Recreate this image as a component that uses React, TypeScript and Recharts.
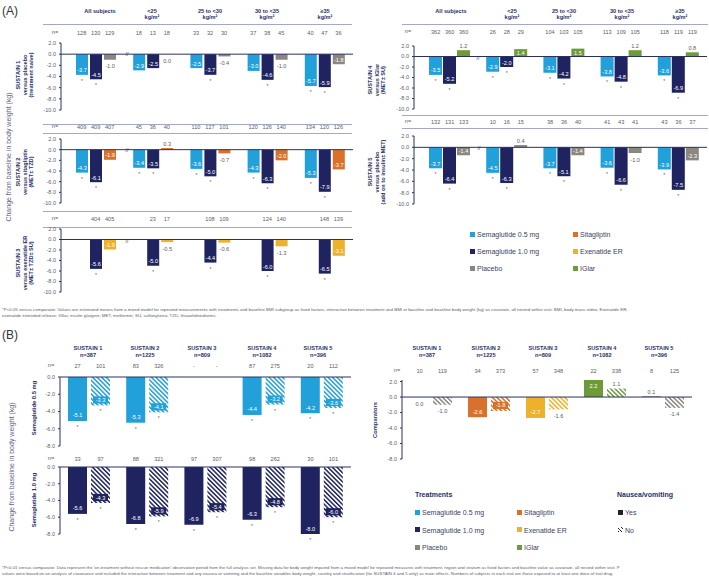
import React from 'react';
import { BarChart, Bar, XAxis, YAxis, ReferenceLine, LabelList, Cell } from 'recharts';

const FONT = '"Liberation Sans", Arial, Helvetica, sans-serif';
const NAVY = '#2a3064';
const TXT = '#5a5d6a';
const LINE = '#a3a9c4';

const C_SEMA05 = '#21a0da';
const C_SEMA10 = '#1f2460';
const C_PLACEBO = '#8b8680';
const C_SITA = '#d9712c';
const C_EXEN = '#eeb12c';
const C_IGLAR = '#6c9b37';

// ---- Panel A: BMI subgroups ----
const bmiGroups = ['All subjects', '<25', '25 to <30', '30 to <35', '≥35'];
const bmiHeaders = [['All subjects'], ['<25', 'kg/m²'], ['25 to <30', 'kg/m²'], ['30 to <35', 'kg/m²'], ['≥35', 'kg/m²']];

const s1Sema05 = [-3.7, -2.9, -2.5, -3.0, -5.7];
const s1Sema10 = [-4.5, -2.5, -3.7, -4.6, -5.9];
const s1Placebo = [-1.0, 0.0, -0.4, -1.0, -1.8];
const s1N05 = [128, 18, 33, 37, 40];
const s1N10 = [130, 13, 32, 38, 47];
const s1NPbo = [129, 18, 30, 45, 36];
const s1Star05 = [true, false, false, false, true];
const s1Star10 = [true, false, true, true, true];

const s2Sema05 = [-4.3, -3.4, -3.6, -4.3, -5.3];
const s2Sema10 = [-6.1, -3.5, -5.0, -6.3, -7.9];
const s2Sita = [-1.9, 0.3, -0.7, -2.0, -3.7];
const s2N05 = [409, 45, 110, 120, 134];
const s2N10 = [409, 36, 127, 126, 120];
const s2NSita = [407, 40, 101, 140, 126];

const s3Sema05 = [null, null, null, null, null];
const s3Sema10 = [-5.6, -5.0, -4.4, -6.0, -6.5];
const s3Exen = [-1.9, -0.5, -0.6, -1.3, -3.1];
const s3N10 = [404, 23, 108, 124, 148];
const s3NExen = [405, 17, 109, 140, 139];

const s4Sema05 = [-3.5, -2.9, -3.1, -3.8, -3.6];
const s4Sema10 = [-5.2, -2.0, -4.2, -4.8, -6.9];
const s4IGlar = [1.2, 1.4, 1.5, 1.2, 0.8];
const s4N05 = [362, 26, 104, 113, 118];
const s4N10 = [360, 28, 103, 109, 119];
const s4NIG = [360, 29, 105, 105, 119];

const s5Sema05 = [-3.7, -4.5, -3.7, -3.6, -3.9];
const s5Sema10 = [-6.4, -6.3, -5.1, -6.6, -7.5];
const s5Placebo = [-1.4, 0.4, -1.4, -1.0, -2.3];
const s5N05 = [132, 10, 38, 41, 43];
const s5N10 = [131, 16, 36, 43, 36];
const s5NPbo = [133, 15, 40, 41, 37];

const allStar = [true, true, true, true, true];
const noStar = [false, false, false, false, false];
const blankN = ['', '', '', '', ''];

// ---- Panel B: nausea / vomiting ----
const trials = ['SUSTAIN 1', 'SUSTAIN 2', 'SUSTAIN 3', 'SUSTAIN 4', 'SUSTAIN 5'];
const trialN = ['n=387', 'n=1225', 'n=809', 'n=1082', 'n=396'];

const b05Yes = [-5.1, -5.3, null, -4.4, -4.2];
const b05No = [-3.3, -4.1, null, -3.2, -3.6];
const b05NYes = [27, 83, '-', 87, 20];
const b05NNo = [101, 326, '-', 275, 112];
const b05Star = [true, true, false, true, true];

const b10Yes = [-5.6, -6.8, -6.9, -6.3, -8.0];
const b10No = [-4.3, -5.9, -5.4, -4.8, -6.0];
const b10NYes = [33, 88, 97, 98, 30];
const b10NNo = [97, 321, 307, 262, 101];

const compYes = [0.0, -2.6, -2.7, 2.2, 0.1];
const compNo = [-1.0, -1.8, -1.6, 1.1, -1.4];
const compNYes = [10, 34, 57, 22, 8];
const compNNo = [119, 373, 348, 338, 125];
const compColors = [C_PLACEBO, C_SITA, C_EXEN, C_IGLAR, C_PLACEBO];

const legendNames = ['Semaglutide 0.5 mg', 'Semaglutide 1.0 mg', 'Placebo', 'Sitagliptin', 'Exenatide ER', 'IGlar'];
const legendColors = [C_SEMA05, C_SEMA10, C_PLACEBO, C_SITA, C_EXEN, C_IGLAR];

const ticksA = [2, 0, -2, -4, -6, -8, -10];
const ticksB = [0, -2, -4, -6, -8];
const ticksC = [2, 0, -2, -4, -6, -8];

const fill5 = (c: string) => [c, c, c, c, c];

type SeriesDef = {
  key: string;
  values: (number | null)[];
  colors: string[];
  n: (number | string)[];
  stars: boolean[];
  hatched?: boolean;
};

type ChartDef = {
  cats: string[];
  series: SeriesDef[];
  x0: number;
  x1: number;
  y0: number;
  y1: number;
  domain: [number, number];
  ticks: number[];
  padLeft: number;
  barSize: number;
  barGap: number;
  nGap: number;
  threshold: number;
  insideOffset: number;
};

const hatchId = (c: string) => `hatch-${c.slice(1)}`;

// n= row drawn as the category ticks of a top x axis, one number per bar slot
function makeNTick(c: ChartDef, mt: number) {
  const m = c.series.length;
  const step = c.barSize + c.barGap;
  return (props: any) => {
    const x = Number(props.x);
    const idx = c.cats.indexOf(props.payload?.value);
    const i = idx >= 0 ? idx : props.index ?? 0;
    return (
      <g>
        {c.series.map((s, k) => {
          const nv = s.n[i];
          if (nv === '' || nv == null) return null;
          return (
            <text key={k} x={x + (k - (m - 1) / 2) * step} y={mt - c.nGap} textAnchor="middle" dominantBaseline="central" fontSize={5.6} fill={TXT} fontFamily={FONT}>
              {nv}
            </text>
          );
        })}
      </g>
    );
  };
}

function makeLabel(s: SeriesDef, c: ChartDef) {
  return (props: any) => {
    const vb = props.viewBox || props;
    const x = Number(vb.x);
    const w = Number(vb.width);
    const y = Number(vb.y);
    const h = Number(vb.height);
    const i = typeof props.value === 'number' ? props.value : props.index;
    const cx = x + w / 2;
    const out: React.ReactNode[] = [];
    const v = s.values[i];
    if (v != null && !isNaN(y) && !isNaN(h)) {
      const top = Math.min(y, y + h);
      const bot = Math.max(y, y + h);
      const inside = Math.abs(v) >= c.threshold;
      const col = s.colors[i];
      let ly: number;
      if (v <= 0) ly = inside ? bot - Math.min((bot - top) / 2, c.insideOffset) : bot + 6.5;
      else ly = inside ? top + Math.min((bot - top) / 2, c.insideOffset) : top - 4.5;
      if (inside && s.hatched) {
        out.push(<rect key="b" x={cx - 7.5} y={ly - 3.6} width={15} height={7.2} fill={col} />);
      }
      out.push(
        <text key="v" x={cx} y={ly} textAnchor="middle" dominantBaseline="central" fontSize={5.6} fill={inside ? '#fff' : TXT} fontFamily={FONT}>
          {v.toFixed(1)}
        </text>
      );
      if (s.stars[i]) {
        out.push(
          <text key="s" x={cx} y={bot + 6} textAnchor="middle" dominantBaseline="central" fontSize={5} fill={TXT} fontFamily={FONT}>
            *
          </text>
        );
      }
    }
    return <g>{out}</g>;
  };
}

function GroupChart(c: ChartDef) {
  const mt = 22;
  const mb = 10;
  const aw = 36;
  const data = c.cats.map((g, i) => {
    const row: Record<string, any> = { g, i };
    c.series.forEach((s) => {
      row[s.key] = s.values[i];
    });
    return row;
  });
  const hatchColors = Array.from(new Set(c.series.filter((s) => s.hatched).flatMap((s) => s.colors)));
  return (
    <div style={{ position: 'absolute', left: c.x0 - aw, top: c.y0 - mt }}>
      <BarChart
        width={aw + c.x1 - c.x0}
        height={mt + c.y1 - c.y0 + mb}
        data={data}
        margin={{ top: 0, right: 0, bottom: mb, left: 0 }}
        barSize={c.barSize}
        barGap={c.barGap}
      >
        <defs>
          {hatchColors.map((col) => (
            <pattern key={col} id={hatchId(col)} patternUnits="userSpaceOnUse" width={3.2} height={3.2} patternTransform="rotate(-45)">
              <rect width={3.2} height={3.2} fill="#fff" />
              <rect width={1.5} height={3.2} fill={col} />
            </pattern>
          ))}
        </defs>
        <XAxis
          dataKey="g"
          orientation="top"
          height={mt}
          axisLine={false}
          tickLine={false}
          interval={0}
          tick={makeNTick(c, mt)}
          padding={{ left: c.padLeft, right: 0 }}
        />
        <YAxis
          domain={c.domain}
          ticks={c.ticks}
          interval={0}
          width={aw}
          axisLine={{ stroke: NAVY }}
          tickLine={{ stroke: NAVY }}
          tickSize={2}
          tickMargin={3}
          tick={{ fontSize: 5.5, fill: TXT, fontFamily: FONT }}
          tickFormatter={(v: number) => v.toFixed(1)}
        />
        {c.series.map((s) => (
          <Bar key={s.key} dataKey={s.key} isAnimationActive={false} fill={s.colors[0]} minPointSize={0.01}>
            {s.colors.map((col, k) => (
              <Cell key={k} fill={s.hatched ? `url(#${hatchId(col)})` : col} />
            ))}
            <LabelList valueAccessor={(e: any) => e.payload.i} content={makeLabel(s, c)} />
          </Bar>
        ))}
        <ReferenceLine y={0} stroke={NAVY} strokeWidth={1} />
      </BarChart>
    </div>
  );
}

function T({ x, y, children, size = 5.6, bold = false, color = TXT, anchor = 'middle' }: any) {
  return (
    <div
      style={{
        position: 'absolute',
        left: x,
        top: y,
        transform: anchor === 'middle' ? 'translate(-50%, -50%)' : 'translate(0, -50%)',
        fontSize: size,
        fontWeight: bold ? 700 : 400,
        color,
        whiteSpace: 'nowrap',
        lineHeight: 1,
      }}
    >
      {children}
    </div>
  );
}

function VLabel({ x, y, lines, size = 5.6, bold = true, color = NAVY }: any) {
  return (
    <div
      style={{
        position: 'absolute',
        left: x,
        top: y,
        transform: 'translate(-50%, -50%) rotate(-90deg)',
        fontSize: size,
        fontWeight: bold ? 700 : 400,
        color,
        textAlign: 'center',
        whiteSpace: 'nowrap',
        lineHeight: 1.2,
      }}
    >
      {lines.map((l: string, k: number) => (
        <div key={k}>{l}</div>
      ))}
    </div>
  );
}

function HLine({ x0, x1, y, w = 0.8 }: any) {
  return <div style={{ position: 'absolute', left: x0, top: y, width: x1 - x0, height: w, background: LINE }} />;
}

function Swatch({ x, y, color, hatch }: any) {
  return (
    <div
      style={{
        position: 'absolute',
        left: x,
        top: y - 2.5,
        width: 5,
        height: 5,
        background: hatch ? `repeating-linear-gradient(45deg, #222 0 1px, #fff 1px 2.5px)` : color,
      }}
    />
  );
}

const aLeft = { x0: 61, x1: 353, padLeft: 6, barSize: 12, barGap: 2, domain: [-10, 2] as [number, number], ticks: ticksA, threshold: 1.35, insideOffset: 4.5 };
const aRight = { x0: 414, x1: 707, padLeft: 7, barSize: 13, barGap: 1, domain: [-10, 2] as [number, number], ticks: ticksA, threshold: 1.35, insideOffset: 4.5 };
const bLeft = { x0: 60, x1: 351, padLeft: 0, barSize: 19, barGap: 4, domain: [-8, 0] as [number, number], ticks: ticksB, threshold: 1.7, insideOffset: 5.5 };
const bRight = { x0: 402, x1: 692, padLeft: 0, barSize: 19, barGap: 4, domain: [-8, 2] as [number, number], ticks: ticksC, threshold: 1.7, insideOffset: 5.5 };

export default function App() {
  const headA1 = [100, 152, 210, 267, 325];
  const headA2 = [451, 512, 564, 622, 680];
  const headB1 = [88, 145, 202, 262, 318];
  const headB2 = [427, 486, 543, 602, 659];
  return (
    <div style={{ position: 'absolute', left: 0, top: 0, width: 709, height: 577, background: '#fff', fontFamily: FONT, overflow: 'hidden' }}>
      <T x={2} y={11} size={12} color="#333" anchor="start">(A)</T>
      <T x={2} y={335} size={12} color="#333" anchor="start">(B)</T>

      {bmiHeaders.map((h, k) => (
        <React.Fragment key={k}>
          <T x={headA1[k]} y={12} bold color={NAVY}>{h[0]}</T>
          {h[1] && <T x={headA1[k]} y={17.5} bold color={NAVY}>{h[1]}</T>}
          <T x={headA2[k]} y={12} bold color={NAVY}>{h[0]}</T>
          {h[1] && <T x={headA2[k]} y={17.5} bold color={NAVY}>{h[1]}</T>}
        </React.Fragment>
      ))}

      <HLine x0={43} x1={352} y={23.5} w={1.2} />
      <HLine x0={43} x1={352} y={123.5} />
      <HLine x0={43} x1={352} y={132.5} />
      <HLine x0={43} x1={352} y={210.5} />
      <HLine x0={43} x1={352} y={226.5} />
      <HLine x0={402} x1={708} y={23.5} w={1.2} />
      <HLine x0={402} x1={708} y={114.5} />
      <HLine x0={402} x1={708} y={127.5} />

      {[33, 127, 219].map((y) => <T key={y} x={55} y={y}>n=</T>)}
      {[32, 122].map((y) => <T key={y} x={408} y={y}>n=</T>)}
      <T x={51} y={366}>n=</T>
      <T x={51} y={459}>n=</T>
      <T x={397} y={371}>n=</T>

      <VLabel x={9} y={157} lines={['Change from baseline in body weight (kg)']} size={7} bold={false} color="#5c6288" />
      <VLabel x={25} y={75} lines={['SUSTAIN 1', 'versus placebo', '(treatment naive)']} />
      <VLabel x={25} y={172} lines={['SUSTAIN 2', 'versus sitagliptin', '(MET± TZD)']} />
      <VLabel x={25} y={263} lines={['SUSTAIN 3', 'versus exenatide ER', '(MET± TZD± SU)']} />
      <VLabel x={377} y={80} lines={['SUSTAIN 4', 'versus IGlar', '(MET± SU)']} />
      <VLabel x={377} y={172} lines={['SUSTAIN 5', 'versus placebo', '(add on to insulin± MET)']} />

      <GroupChart
        {...aLeft}
        cats={bmiGroups}
        y0={43}
        y1={110}
        nGap={10}
        series={[
          { key: 'a', values: s1Sema05, colors: fill5(C_SEMA05), n: s1N05, stars: s1Star05 },
          { key: 'b', values: s1Sema10, colors: fill5(C_SEMA10), n: s1N10, stars: s1Star10 },
          { key: 'c', values: s1Placebo, colors: fill5(C_PLACEBO), n: s1NPbo, stars: noStar },
        ]}
      />
      <GroupChart
        {...aLeft}
        cats={bmiGroups}
        y0={139}
        y1={203}
        nGap={12}
        series={[
          { key: 'a', values: s2Sema05, colors: fill5(C_SEMA05), n: s2N05, stars: allStar },
          { key: 'b', values: s2Sema10, colors: fill5(C_SEMA10), n: s2N10, stars: allStar },
          { key: 'c', values: s2Sita, colors: fill5(C_SITA), n: s2NSita, stars: noStar },
        ]}
      />
      <GroupChart
        {...aLeft}
        cats={bmiGroups}
        y0={229}
        y1={292}
        nGap={10}
        series={[
          { key: 'a', values: s3Sema05, colors: fill5(C_SEMA05), n: blankN, stars: noStar },
          { key: 'b', values: s3Sema10, colors: fill5(C_SEMA10), n: s3N10, stars: allStar },
          { key: 'c', values: s3Exen, colors: fill5(C_EXEN), n: s3NExen, stars: noStar },
        ]}
      />
      <GroupChart
        {...aRight}
        cats={bmiGroups}
        y0={46}
        y1={109}
        nGap={14}
        series={[
          { key: 'a', values: s4Sema05, colors: fill5(C_SEMA05), n: s4N05, stars: allStar },
          { key: 'b', values: s4Sema10, colors: fill5(C_SEMA10), n: s4N10, stars: allStar },
          { key: 'c', values: s4IGlar, colors: fill5(C_IGLAR), n: s4NIG, stars: noStar },
        ]}
      />
      <GroupChart
        {...aRight}
        cats={bmiGroups}
        y0={136}
        y1={204}
        nGap={14}
        series={[
          { key: 'a', values: s5Sema05, colors: fill5(C_SEMA05), n: s5N05, stars: allStar },
          { key: 'b', values: s5Sema10, colors: fill5(C_SEMA10), n: s5N10, stars: allStar },
          { key: 'c', values: s5Placebo, colors: fill5(C_PLACEBO), n: s5NPbo, stars: noStar },
        ]}
      />

      {[[127, 53.5], [127, 149.5], [127, 241], [478, 57.5], [479, 147.5]].map(([x, y], k) => (
        <T key={k} x={x} y={y} size={5} color={NAVY}>//</T>
      ))}

      {legendNames.map((name, k) => {
        const x = k < 3 ? 470 : 573;
        const y = 234 + (k % 3) * 17;
        return (
          <React.Fragment key={name}>
            <Swatch x={x} y={y} color={legendColors[k]} />
            <T x={x + 7} y={y} size={7} color="#3a3f5c" anchor="start">{name}</T>
          </React.Fragment>
        );
      })}

      <T x={2} y={309.5} size={4.4} anchor="start">
        *P&lt;0.05 versus comparator. Values are estimated means from a mixed model for repeated measurements with treatments and baseline BMI subgroup as fixed factors, interaction between treatment and BMI at baseline and baseline body weight (kg) as covariate, all nested within visit. BMI, body mass index; Exenatide ER,
      </T>
      <T x={2} y={315.5} size={4.4} anchor="start">
        exenatide extended release; IGlar, insulin glargine; MET, metformin; SU, sulfonylurea; TZD, thiazolidinediones.
      </T>

      {trials.map((t, k) => (
        <React.Fragment key={t}>
          <T x={headB1[k]} y={349} bold color={NAVY}>{t}</T>
          <T x={headB1[k]} y={356} bold color={NAVY}>{trialN[k]}</T>
          <T x={headB2[k]} y={349} bold color={NAVY}>{t}</T>
          <T x={headB2[k]} y={356} bold color={NAVY}>{trialN[k]}</T>
        </React.Fragment>
      ))}

      <VLabel x={12} y={467} lines={['Change from baseline in body weight (kg)']} size={7} bold={false} color="#5c6288" />
      <VLabel x={34} y={408} lines={['Semaglutide 0.5 mg']} size={5.8} />
      <VLabel x={34} y={500} lines={['Semaglutide 1.0 mg']} size={5.8} />
      <VLabel x={375} y={420} lines={['Comparators']} size={5.8} />

      <GroupChart
        {...bLeft}
        cats={trials}
        y0={377}
        y1={446}
        nGap={11}
        series={[
          { key: 'yes', values: b05Yes, colors: fill5(C_SEMA05), n: b05NYes, stars: b05Star },
          { key: 'no', values: b05No, colors: fill5(C_SEMA05), n: b05NNo, stars: b05Star, hatched: true },
        ]}
      />
      <GroupChart
        {...bLeft}
        cats={trials}
        y0={467}
        y1={534}
        nGap={8}
        series={[
          { key: 'yes', values: b10Yes, colors: fill5(C_SEMA10), n: b10NYes, stars: allStar },
          { key: 'no', values: b10No, colors: fill5(C_SEMA10), n: b10NNo, stars: allStar, hatched: true },
        ]}
      />
      <GroupChart
        {...bRight}
        cats={trials}
        y0={380}
        y1={459}
        nGap={9}
        series={[
          { key: 'yes', values: compYes, colors: compColors, n: compNYes, stars: noStar },
          { key: 'no', values: compNo, colors: compColors, n: compNNo, stars: noStar, hatched: true },
        ]}
      />

      <T x={415} y={494} size={7} bold color={NAVY} anchor="start">Treatments</T>
      <T x={617} y={494} size={7} bold color={NAVY} anchor="start">Nausea/vomiting</T>
      {legendNames.map((name, k) => {
        const x = k < 3 ? 415 : 517;
        const y = 512 + (k % 3) * 17.5;
        return (
          <React.Fragment key={name}>
            <Swatch x={x} y={y} color={legendColors[k]} />
            <T x={x + 7} y={y} size={7} color="#3a3f5c" anchor="start">{name}</T>
          </React.Fragment>
        );
      })}
      <Swatch x={618} y={512} color="#222" />
      <T x={625} y={512} size={7} color="#3a3f5c" anchor="start">Yes</T>
      <Swatch x={618} y={529.5} hatch />
      <T x={625} y={529.5} size={7} color="#3a3f5c" anchor="start">No</T>

      <T x={2} y={568} size={4.34} anchor="start">
        *P&lt;0.01 versus comparator. Data represent the 'on-treatment without rescue medication' observation period from the full analysis set. Missing data for body weight imputed from a mixed model for repeated measures with treatment, region and stratum as fixed factors and baseline value as covariate, all nested within visit. P
      </T>
      <T x={2} y={574} size={4.34} anchor="start">
        values were based on an analysis of covariance and included the interaction between treatment and any nausea or vomiting and the baseline variables body weight, country and stratification (for SUSTAIN 4 and 5 only) as main effects. Numbers of subjects in each trial are those exposed to at least one dose of trial drug.
      </T>
    </div>
  );
}
